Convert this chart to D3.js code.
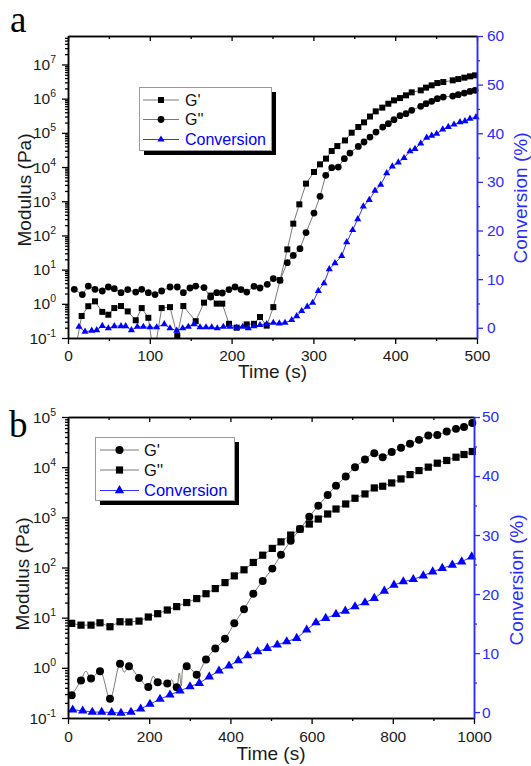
<!DOCTYPE html>
<html><head><meta charset="utf-8">
<script src="https://cdn.jsdelivr.net/npm/d3@7"></script>
<style>body{margin:0;background:#fff}svg{display:block}</style>
</head><body>
<svg id="chart" width="531" height="766"></svg>
<script>
// ---------- Panel a data ----------
const timeGpA = [8.6,16.7,24.8,33.0,41.9,49.3,56.6,64.8,73.0,82.8,90.1,98.2,105,114.5,124.7,133.6,141.0,156.1,166.3,174.4,181.8,188.6,196.8,206.2,218.5,227.4,234.7,242.9,251.0,259.2,268.1,275.4,282.8,291.0,300.7,308.1,315.4,322.4,329.2,338.6,346.8,354.9,361.9,369.2,376.2,384.2,391.6,398.5,405.9,413.2,420.2,431.2,437.7,444.6,451.5,458.8,470.3,477.1,484.5,491.4,497.6];
const gPrimeA = [0.04,0.44,0.85,1.18,0.58,0.48,0.75,0.86,0.60,0.33,0.75,0.39,0.03,0.75,0.80,0.115,0.86,0.31,1.08,1.74,1.01,1.01,0.26,0.20,0.25,0.26,0.41,0.23,0.8,4.9,39,221,811,3270,7150,1.2e4,1.76e4,2.94e4,4.1e4,6.0e4,1.01e5,1.48e5,2.03e5,3.0e5,4.25e5,5.46e5,7.1e5,8.9e5,1.04e6,1.25e6,1.53e6,1.75e6,2.1e6,2.45e6,2.86e6,3.06e6,3.43e6,3.74e6,4.11e6,4.49e6,4.8e6];
const timeGppA = [7.7,17.5,24.8,33.0,41.9,49.3,56.6,64.8,73.0,82.8,90.1,98.2,106.4,114.5,124.7,133.6,141.0,149.1,156.1,166.3,174.4,181.8,188.6,196.8,204.2,211.5,218.5,227.4,234.7,243.6,251.0,259.2,268.1,275.4,283.6,291.0,300.7,308.1,315.1,322.4,330.4,337.8,344.7,354.9,361.9,369.2,376.5,384.7,391.6,398.5,405.9,413.2,420.2,431.2,437.7,444.6,451.5,458.8,470.3,477.1,484.5,491.4,497.6];
const gDoublePrimeA = [2.65,1.86,3.31,2.65,2.37,3.10,2.78,2.12,2.60,2.21,2.65,2.12,1.86,2.37,3.10,3.10,2.12,2.90,3.31,2.98,1.58,2.12,2.07,2.60,3.10,2.60,2.21,3.25,2.90,3.72,5.46,4.86,16,26,41,121,452,1390,5710,9600,1.0e4,1.76e4,2.57e4,4.0e4,5.4e4,7.5e4,1.05e5,1.48e5,1.86e5,2.43e5,3.18e5,3.64e5,4.55e5,5.96e5,7.14e5,8.34e5,1.0e6,1.11e6,1.19e6,1.31e6,1.46e6,1.63e6,1.75e6];
const timeConvA = [13.4,20.8,29.0,35.1,41.9,49.3,56.6,64.8,70.5,77.5,84.7,92.1,100.2,108.4,117.7,124.7,132.9,140.2,147.1,154.0,161.4,168.7,175.7,182.5,189.9,198.0,206.2,213.6,220.4,227.4,234.7,242.9,251.0,258.3,265.3,273.5,279.6,285.7,292.5,299.1,306.0,313.0,319.4,326.4,334.6,340.7,348.0,354.2,361.0,368.3,375.3,382.3,389.6,396.5,403.8,410.8,418.1,424.2,431.2,438.5,444.6,450.7,458.1,464.9,471.9,479.2,485.3,491.4,498.8];
const conversionA = [0.2,-0.8,-0.6,-0.5,0.4,-0.1,0.35,0.35,0.35,-0.5,0.2,0.2,0.1,0.1,0.76,-0.1,-0.6,-0.1,0.2,0.76,0.1,0.1,0.1,-0.1,0.2,0.2,0.0,0.2,-0.1,0.35,0.56,0.76,1.03,0.9,1.03,1.59,2.41,3.44,4.33,5.15,7.57,9.15,12.04,13.28,14.78,17.6,20.1,22.35,24.95,26.3,28.2,29.4,31.8,33.2,34.0,34.9,36.3,36.8,37.9,39.1,39.5,39.9,40.8,41.3,41.8,42.3,42.5,43.0,43.3];

// ---------- Panel b data ----------
const timeModB = [9.1,32.0,56.7,78.8,103.4,128.1,150.2,174.9,197.8,220.9,244.6,267.7,292.4,317.0,339.9,362.8,386.7,409.6,433.5,456.4,479.6,503.2,524.6,548.5,571.4,594.3,616.5,639.6,660.1,684.0,706.9,731.5,754.4,775.1,797.3,820.2,842.4,864.5,887.4,909.6,932.8,955.7,975.4,995.8];
const gPrimeB = [0.283,0.557,0.61,0.855,0.243,1.2,1.08,0.63,0.417,0.515,0.485,0.41,1.08,0.73,1.47,2.43,3.8,7.7,14.7,30,54,95,179,340,583,1028,1706,2792,4285,6486,1.0e4,1.42e4,1.9e4,1.58e4,2.0e4,2.43e4,2.92e4,3.5e4,4.3e4,4.4e4,5.15e4,5.8e4,6.3e4,7.6e4];
const gDoublePrimeB = [7.7,7.1,7.1,7.9,6.6,8.3,8.2,8.55,10.3,12.0,14.2,16.6,20,24,30,38,50,68,90,126,176,240,325,443,583,735,925,1165,1466,1845,2400,2925,3855,4170,4850,5830,7110,8550,1.0e4,1.2e4,1.36e4,1.58e4,1.79e4,2.05e4];
// extra vertices of the raw G' trace (line only, no markers)
const traceTimesB = [44.3,138.7,210,256,262,274,279,284,304.7];
const traceValuesB = [0.855,0.82,0.68,0.58,0.43,0.79,0.44,1.0,0.92];
const timeConvB = [11.6,36.2,59.9,82.9,107.6,130.5,155.2,179.0,201.9,226.6,251.2,275.9,300.5,323.4,348.0,371.9,396.6,419.5,442.6,467.2,491.0,515.5,538.7,563.3,587.9,610.8,634.7,660.1,683.0,706.9,731.5,754.4,779.1,802.9,825.9,850.5,875.1,898.3,921.9,946.6,969.7,994.3];
const conversionB = [0.39,0.22,0,0,-0.06,-0.17,0,0.56,1.35,2.2,2.93,3.6,4.33,4.9,6.0,7.0,7.83,8.73,9.58,10.25,10.83,11.39,11.95,12.52,13.93,15.16,15.9,16.58,17.14,17.87,18.55,19.29,20.52,21.54,22.1,22.5,23.11,23.79,24.37,24.92,25.48,26.33];

// ---------- tick values ----------
const xMajorA = [0,100,200,300,400,500];
const xMinorA = [50,150,250,350,450];
const xMajorB = [0,200,400,600,800,1000];
const xMinorB = [100,300,500,700,900];
const expA = [-1,0,1,2,3,4,5,6,7];
const expB = [-1,0,1,2,3,4,5];
const convMajorA = [0,10,20,30,40,50,60];
const convMinorA = [5,15,25,35,45,55];
const convMajorB = [0,10,20,30,40,50];
const convMinorB = [5,15,25,35,45];

const svg = d3.select("#chart");
const FONT = "'Liberation Sans', Arial, Helvetica, sans-serif";
const SERIF = "'Liberation Serif', 'Times New Roman', serif";
const BLUE = "#0000ff";
const AXBLUE = "#2b2bff";
const GRAY = "#555";
const defs = svg.append("defs");

function styleAxis(sel, color, textColor, fs) {
  sel.select(".domain").attr("stroke", color).attr("stroke-width", 1.5);
  sel.selectAll(".tick line").attr("stroke", color).attr("stroke-width", 1.3);
  sel.selectAll(".tick text").attr("fill", textColor).attr("font-family", FONT).attr("font-size", fs);
}
function minorTicks(lo, hi) {
  const out = [];
  for (let e = Math.floor(Math.log10(lo)); e <= Math.ceil(Math.log10(hi)); e++)
    for (let k = 2; k <= 9; k++) { const v = k * Math.pow(10, e); if (v > lo && v < hi) out.push(v); }
  return out;
}

function drawPanel(p) {
  const x = d3.scaleLinear().domain(p.xDomain).range([p.l, p.r]);
  const y = d3.scaleLog().domain(p.yDomain).range([p.b, p.t]);
  const y2 = d3.scaleLinear().domain(p.y2Domain).range([p.b, p.t]);
  const clipId = "clip-" + p.id;
  defs.append("clipPath").attr("id", clipId).append("rect")
    .attr("x", p.l).attr("y", p.t - 4).attr("width", p.r - p.l + 4).attr("height", p.b - p.t + 4);
  const g = svg.append("g");

  // series
  const plot = g.append("g").attr("clip-path", `url(#${clipId})`);
  p.series.forEach(s => {
    const sc = s.right ? y2 : y;
    const pts = d3.zip(s.t, s.v);
    let linePts = pts;
    if (s.traceT) linePts = pts.concat(d3.zip(s.traceT, s.traceV)).sort((a, b) => a[0] - b[0]);
    const line = d3.line().x(d => x(d[0])).y(d => sc(Math.max(d[1], s.right ? -100 : 1e-3)));
    if (s.smooth) line.curve(d3.curveCatmullRom.alpha(0.5));
    plot.append("path").attr("d", line(linePts)).attr("fill", "none")
      .attr("stroke", s.lineColor).attr("stroke-width", 0.8);
    plot.selectAll(null).data(pts).enter().append("path")
      .attr("d", d3.symbol().type(s.symbol).size(s.size))
      .attr("transform", d => `translate(${x(d[0])},${sc(Math.max(d[1], s.right ? -100 : 1e-3))})`)
      .attr("fill", s.color);
  });

  // axes
  const gb1 = g.append("g").attr("transform", `translate(0,${p.b})`)
    .call(d3.axisBottom(x).tickValues(p.xMinor).tickSize(3).tickSizeOuter(0).tickFormat(""));
  styleAxis(gb1, "#000", "#000", 15.5);
  const gb = g.append("g").attr("transform", `translate(0,${p.b})`)
    .call(d3.axisBottom(x).tickValues(p.xMajor).tickSize(6).tickSizeOuter(0).tickPadding(p.xPad).tickFormat(d3.format("d")));
  styleAxis(gb, "#000", "#1a1a1a", 15.5);
  const gt1 = g.append("g").attr("transform", `translate(0,${p.t})`)
    .call(d3.axisTop(x).tickValues(p.xMinor).tickSize(-3).tickSizeOuter(0).tickFormat(""));
  styleAxis(gt1, "#000", "#000", 15.5);
  const gt = g.append("g").attr("transform", `translate(0,${p.t})`)
    .call(d3.axisTop(x).tickValues(p.xMajor).tickSize(-5).tickSizeOuter(0).tickFormat(""));
  styleAxis(gt, "#000", "#000", 15.5);

  const gl1 = g.append("g").attr("transform", `translate(${p.l},0)`)
    .call(d3.axisLeft(y).tickValues(minorTicks(p.yDomain[0], p.yDomain[1])).tickSize(3).tickSizeOuter(0).tickFormat(""));
  styleAxis(gl1, "#000", "#000", 15.5);
  const gl = g.append("g").attr("transform", `translate(${p.l},0)`)
    .call(d3.axisLeft(y).tickValues(p.exps.map(e => Math.pow(10, e))).tickSize(6).tickSizeOuter(0).tickFormat(""));
  styleAxis(gl, "#000", "#000", 15.5);
  p.exps.forEach(e => {
    const t = g.append("text").attr("x", p.l - 12).attr("y", y(Math.pow(10, e)) + 5.5)
      .attr("text-anchor", "end").attr("font-family", FONT).attr("fill", "#1a1a1a");
    t.append("tspan").attr("font-size", 15.5).text("10");
    t.append("tspan").attr("font-size", 10.5).attr("dy", -7).text(String(e));
  });

  const gr1 = g.append("g").attr("transform", `translate(${p.r},0)`)
    .call(d3.axisRight(y2).tickValues(p.y2Minor).tickSize(3).tickSizeOuter(0).tickFormat(""));
  styleAxis(gr1, AXBLUE, AXBLUE, 15.5);
  const gr = g.append("g").attr("transform", `translate(${p.r},0)`)
    .call(d3.axisRight(y2).tickValues(p.y2Major).tickSize(6).tickSizeOuter(0).tickPadding(p.rPad).tickFormat(d3.format("d")));
  styleAxis(gr, AXBLUE, AXBLUE, 15.5);

  // titles
  g.append("text").attr("x", (p.l + p.r) / 2).attr("y", p.xTitleY).attr("text-anchor", "middle")
    .attr("font-family", FONT).attr("font-size", 19).attr("fill", "#1a1a1a").text("Time (s)");
  g.append("text").attr("transform", `translate(${p.yTitleX},${p.yTitleC}) rotate(-90)`).attr("text-anchor", "middle")
    .attr("font-family", FONT).attr("font-size", 19).attr("fill", "#1a1a1a").text("Modulus (Pa)");
  g.append("text").attr("transform", `translate(${p.y2TitleX},${p.y2TitleC}) rotate(-90)`).attr("text-anchor", "middle")
    .attr("font-family", FONT).attr("font-size", 19).attr("fill", AXBLUE).text("Conversion (%)");
  g.append("text").attr("x", p.letterX).attr("y", p.letterY).attr("font-family", SERIF)
    .attr("font-size", 37).attr("fill", "#000").text(p.letter);

  // legend
  const L = p.legend;
  g.append("rect").attr("x", L.x + 4.5).attr("y", L.y + 4.5).attr("width", L.w).attr("height", L.h).attr("fill", "#000");
  g.append("rect").attr("x", L.x).attr("y", L.y).attr("width", L.w).attr("height", L.h)
    .attr("fill", "#fff").attr("stroke", "#999").attr("stroke-width", 1);
  p.series.forEach((s, i) => {
    const ry = L.rows[i];
    g.append("line").attr("x1", L.x1).attr("x2", L.x2).attr("y1", ry).attr("y2", ry)
      .attr("stroke", s.lineColor).attr("stroke-width", 0.8);
    g.append("path").attr("d", d3.symbol().type(s.symbol).size(s.size))
      .attr("transform", `translate(${(L.x1 + L.x2) / 2},${ry})`).attr("fill", s.color);
    g.append("text").attr("x", L.tx).attr("y", ry).attr("dy", "0.36em")
      .attr("font-family", FONT).attr("font-size", L.fs).attr("fill", s.right ? BLUE : "#111").text(s.name);
  });
}

drawPanel({
  id: "a", l: 68, r: 477, t: 36, b: 338,
  xDomain: [0, 500], yDomain: [0.1, 6.8e7], y2Domain: [-2.1, 60],
  xMajor: xMajorA, xMinor: xMinorA, exps: expA, y2Major: convMajorA, y2Minor: convMinorA,
  xPad: 6, rPad: 4, xTitleY: 378, yTitleX: 31, yTitleC: 190, y2TitleX: 527, y2TitleC: 198,
  letter: "a", letterX: 10, letterY: 32,
  series: [
    {name: "G'", t: timeGpA, v: gPrimeA, symbol: d3.symbolSquare, size: 36, color: "#000", lineColor: GRAY},
    {name: "G''", t: timeGppA, v: gDoublePrimeA, symbol: d3.symbolCircle, size: 36, color: "#000", lineColor: GRAY},
    {name: "Conversion", t: timeConvA, v: conversionA, symbol: d3.symbolTriangle, size: 22, color: BLUE, lineColor: BLUE, right: true}
  ],
  legend: {x: 139.5, y: 87.5, w: 132, h: 63, rows: [100, 119.5, 139.5], x1: 143, x2: 179, tx: 185, fs: 16}
});

drawPanel({
  id: "b", l: 68, r: 474, t: 417, b: 718,
  xDomain: [0, 1000], yDomain: [0.1, 1e5], y2Domain: [-1, 50],
  xMajor: xMajorB, xMinor: xMinorB, exps: expB, y2Major: convMajorB, y2Minor: convMinorB,
  xPad: 7, rPad: 2, xTitleY: 760, yTitleX: 29, yTitleC: 574, y2TitleX: 523, y2TitleC: 580,
  letter: "b", letterX: 9, letterY: 437,
  series: [
    {name: "G'", t: timeModB, v: gPrimeB, traceT: traceTimesB, traceV: traceValuesB, smooth: true, symbol: d3.symbolCircle, size: 50, color: "#000", lineColor: GRAY},
    {name: "G''", t: timeModB, v: gDoublePrimeB, symbol: d3.symbolSquare, size: 52, color: "#000", lineColor: GRAY},
    {name: "Conversion", t: timeConvB, v: conversionB, symbol: d3.symbolTriangle, size: 38, color: BLUE, lineColor: BLUE, right: true}
  ],
  legend: {x: 95.5, y: 437.5, w: 139, h: 63, rows: [450, 470, 490.5], x1: 100, x2: 139, tx: 144, fs: 16.5}
});
</script>
</body></html>
